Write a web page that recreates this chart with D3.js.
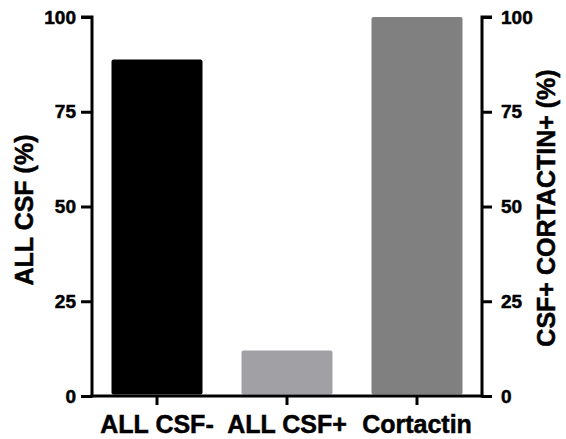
<!DOCTYPE html>
<html>
<head>
<meta charset="utf-8">
<script src="https://cdn.jsdelivr.net/npm/d3@7"></script>
<style>
  body { margin: 0; background: #fff; }
  svg text { font-family: "Liberation Sans", Arial, sans-serif; font-weight: bold; fill: #000; stroke: #000; stroke-width: 0.5px; }
</style>
</head>
<body>
<div id="chart"></div>
<script>
// data
const categories = ['ALL CSF-', 'ALL CSF+', 'Cortactin'];
const values = [88.8, 12.0, 100];
const barColors = ['#000000', '#a1a0a4', '#808080'];
const yTicks = [0, 25, 50, 75, 100];
const leftTitle = 'ALL CSF (%)';
const rightTitle = 'CSF+ CORTACTIN+ (%)';

const width = 566;
const height = 439;
const margin = { top: 17, right: 84, bottom: 43, left: 92 };
const innerW = width - margin.left - margin.right;
const innerH = height - margin.top - margin.bottom;

const svg = d3
  .select('#chart')
  .append('svg')
  .attr('width', width)
  .attr('height', height);

const g = svg
  .append('g')
  .attr('transform', 'translate(' + margin.left + ',' + margin.top + ')');

const x = d3.scaleBand().domain(categories).range([0, innerW]).paddingInner(0.3).paddingOuter(0.15);
const y = d3.scaleLinear().domain([0, 100]).range([innerH, 0]);

// bars (slightly lifted off the axis line)
g.append('g')
  .selectAll('rect')
  .data(values)
  .join('rect')
  .attr('x', (d, i) => x(categories[i]))
  .attr('y', (d) => y(d))
  .attr('width', x.bandwidth())
  .attr('height', (d) => y(0) - y(d) - 1.5)
  .attr('rx', 2)
  .attr('fill', (d, i) => barColors[i]);

// left axis
const yAxisL = d3.axisLeft(y).tickValues(yTicks).tickSize(11).tickPadding(5);
const gl = g.append('g').attr('class', 'y-left').call(yAxisL);

// right axis
const yAxisR = d3.axisRight(y).tickValues(yTicks).tickSize(10).tickPadding(9);
const gr = g.append('g').attr('class', 'y-right').attr('transform', 'translate(' + innerW + ',0)').call(yAxisR);

// x axis
const xAxis = d3.axisBottom(x).tickSize(9).tickPadding(10);
const gx = g.append('g').attr('class', 'x-axis').attr('transform', 'translate(0,' + innerH + ')').call(xAxis);

[gl, gr, gx].forEach((a) => {
  a.select('.domain').attr('stroke', '#000').attr('stroke-width', 3);
  a.selectAll('.tick line').attr('stroke', '#000').attr('stroke-width', 3);
});
gl.select('.domain').attr('d', 'M0,' + (innerH + 1.5) + 'V0H-11');
gr.select('.domain').attr('d', 'M0,' + (innerH + 1.5) + 'V0H10');
gx.select('.domain').attr('d', 'M-1.5,0H' + (innerW + 1.5));
gl.selectAll('.tick text').style('font-size', '19px');
gr.selectAll('.tick text').style('font-size', '19px');
gx.selectAll('.tick text').style('font-size', '25px');

// axis titles
svg
  .append('text')
  .attr('transform', 'translate(33,210) rotate(-90)')
  .attr('text-anchor', 'middle')
  .style('font-size', '25px')
  .text(leftTitle);

svg
  .append('text')
  .attr('transform', 'translate(555,208) rotate(-90)')
  .attr('text-anchor', 'middle')
  .style('font-size', '25px')
  .text(rightTitle);
</script>
</body>
</html>
